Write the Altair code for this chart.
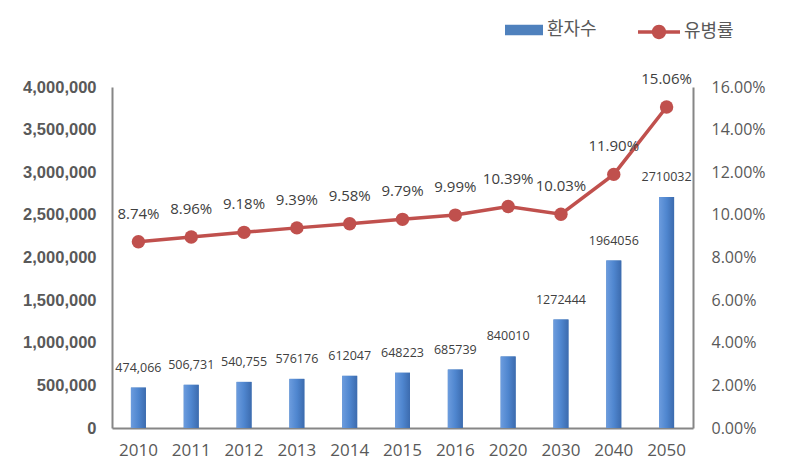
import altair as alt
import pandas as pd

years = ["2010", "2011", "2012", "2013", "2014", "2015", "2016", "2020", "2030", "2040", "2050"]
patients = [474066, 506731, 540755, 576176, 612047, 648223, 685739, 840010, 1272444, 1964056, 2710032]
patient_labels = ["474,066", "506,731", "540,755", "576176", "612047", "648223", "685739",
                  "840010", "1272444", "1964056", "2710032"]
rates = [8.74, 8.96, 9.18, 9.39, 9.58, 9.79, 9.99, 10.39, 10.03, 11.90, 15.06]

df = pd.DataFrame({
    "year": years,
    "patients": patients,
    "plabel": patient_labels,
    "rate": [r / 100 for r in rates],
    "s1": ["환자수"] * len(years),
    "s2": ["유병률"] * len(years),
})

BLUE = "#4F81BD"
RED = "#C0504D"
GRAY = "#595959"
AXIS = "#868686"
FONT = "Open Sans"
KFONT = "Noto Sans CJK KR"

x = alt.X("year:N", sort=None, title=None,
          axis=alt.Axis(labelAngle=0, labelFontSize=17, labelColor=GRAY, labelFont=FONT,
                        ticks=False, domainColor=AXIS, domainWidth=2, labelPadding=14))

yl = alt.Y("patients:Q", title=None,
           scale=alt.Scale(domain=[0, 4000000], nice=False),
           axis=alt.Axis(values=[0, 500000, 1000000, 1500000, 2000000, 2500000, 3000000, 3500000, 4000000],
                         labelExpr="format(datum.value, ',')", labelFontWeight="bold", labelFontSize=16.5,
                         labelColor=GRAY, labelFont="Liberation Sans", ticks=False, grid=False,
                         domainColor=AXIS, domainWidth=2, labelPadding=16))

yr = alt.Y("rate:Q", title=None,
           scale=alt.Scale(domain=[0, 0.16], nice=False),
           axis=alt.Axis(values=[0, 0.02, 0.04, 0.06, 0.08, 0.10, 0.12, 0.14, 0.16],
                         labelExpr="format(datum.value, '.2%')",
                         orient="right", labelFontSize=16, labelColor=GRAY, labelFont=FONT,
                         ticks=False, grid=False, domainColor=AXIS, domainWidth=2, labelPadding=18))

base = alt.Chart(df)

bar_legend = base.mark_bar(size=15).encode(
    x=x, y=yl,
    color=alt.Color("s1:N", scale=alt.Scale(domain=["환자수"], range=[BLUE]),
                    legend=alt.Legend(orient="none", legendX=393, legendY=-76, title=None,
                                      labelFont=KFONT, labelFontSize=18, labelColor=GRAY,
                                      symbolType="M-1,-0.27L1,-0.27L1,0.27L-1,0.27Z",
                                      symbolSize=1444, symbolStrokeWidth=0, labelOffset=4)),
)

bar_grad = base.mark_bar(size=15, color=alt.Gradient(
    gradient="linear", x1=0, x2=1, y1=0, y2=0,
    stops=[alt.GradientStop(color="#6C9CDE", offset=0),
           alt.GradientStop(color="#4F86CF", offset=0.5),
           alt.GradientStop(color="#3C6BAE", offset=1)])).encode(x=x, y=yl)

bar_text = base.mark_text(dy=-20, fontSize=12.5, color="#404040", font=FONT, baseline="middle").encode(
    x=x, y=yl, text="plabel:N")

line = base.mark_line(color=RED, strokeWidth=3.5).encode(x=x, y=yr)

points = base.mark_point(filled=True, size=180, opacity=1).encode(
    x=x, y=yr,
    color=alt.Color("s2:N", scale=alt.Scale(domain=["유병률"], range=[RED]),
                    legend=alt.Legend(orient="none", legendX=526, legendY=-76, title=None,
                                      labelFont=KFONT, labelFontSize=18, labelColor=GRAY,
                                      symbolType="M-1,-0.08L1,-0.08L1,0.08L-1,0.08Z M0.34,0A0.34,0.34 0 1 1 -0.34,0A0.34,0.34 0 1 1 0.34,0Z",
                                      symbolSize=1764, symbolStrokeWidth=0, labelOffset=4)),
)

line_text = base.mark_text(dy=-28, fontSize=15, color="#404040", font=FONT, baseline="middle").encode(
    x=x, y=yr, text=alt.Text("rate:Q", format=".2%"))

left = alt.layer(bar_legend, bar_grad, bar_text)
right = alt.layer(line, points, line_text)

chart = alt.layer(left, right).resolve_scale(y="independent", color="independent").properties(
    width=581, height=341,
    autosize=alt.AutoSizeParams(type="none"),
    padding={"left": 104, "top": 79, "right": 85, "bottom": 38},
).configure_view(stroke=None).configure_axis(labelFont=FONT)

chart.save("out.html", embed_options={"renderer": "svg", "actions": False})
